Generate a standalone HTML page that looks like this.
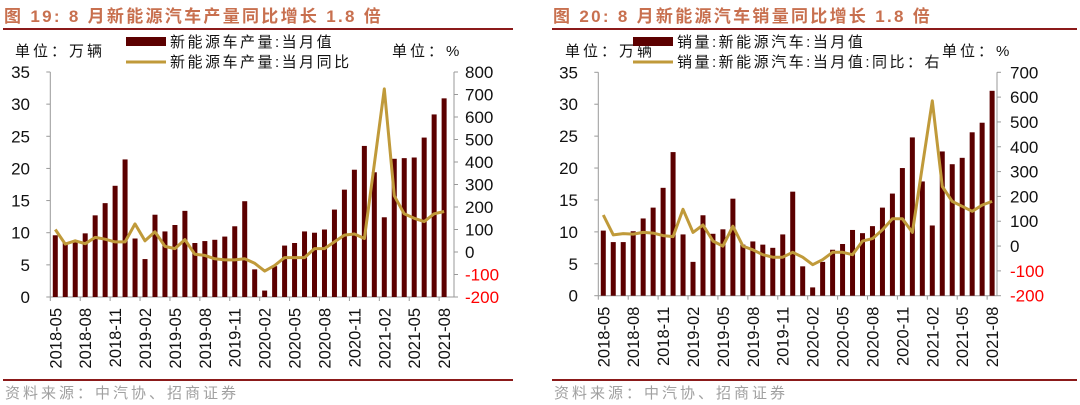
<!DOCTYPE html>
<html><head><meta charset="utf-8">
<style>
html,body{margin:0;padding:0;background:#fff;}
svg{display:block;font-family:"Liberation Sans","Noto Sans CJK SC",sans-serif;}
</style></head>
<body>
<svg id="chart" width="1080" height="405" viewBox="0 0 1080 405" xmlns="http://www.w3.org/2000/svg">
  <g>
    <text x="4" y="22" font-size="17" font-weight="bold" fill="#c8704f" letter-spacing="2.3">图 19:  8 月新能源汽车产量同比增长 1.8 倍</text>
    <rect x="3" y="28" width="510" height="2" fill="#8b1a1a"/>
    <rect x="3" y="379" width="510" height="2" fill="#8b1a1a"/>
    <text x="5" y="398" font-size="15" fill="#a0a0a0" letter-spacing="3">资料来源：中汽协、招商证券</text>
  </g>
  <g>
    <text x="553" y="22" font-size="17" font-weight="bold" fill="#c8704f" letter-spacing="2.3">图 20:  8 月新能源汽车销量同比增长 1.8 倍</text>
    <rect x="552" y="28" width="525" height="2" fill="#8b1a1a"/>
    <rect x="552" y="379" width="525" height="2" fill="#8b1a1a"/>
    <text x="554" y="398" font-size="15" fill="#a0a0a0" letter-spacing="3">资料来源：中汽协、招商证券</text>
  </g>
</svg>
<script>
const categories = ["2018-05","2018-06","2018-07","2018-08","2018-09","2018-10","2018-11","2018-12","2019-01","2019-02","2019-03","2019-04","2019-05","2019-06","2019-07","2019-08","2019-09","2019-10","2019-11","2019-12","2020-01","2020-02","2020-03","2020-04","2020-05","2020-06","2020-07","2020-08","2020-09","2020-10","2020-11","2020-12","2021-01","2021-02","2021-03","2021-04","2021-05","2021-06","2021-07","2021-08"];
const tickLabels = ["2018-05","2018-08","2018-11","2019-02","2019-05","2019-08","2019-11","2020-02","2020-05","2020-08","2020-11","2021-02","2021-05","2021-08"];
const prodValues = [9.6,8.5,8.8,9.9,12.7,14.6,17.3,21.4,9.1,5.9,12.8,10.2,11.2,13.4,8.4,8.7,8.9,9.4,11.0,14.9,4.3,1.0,4.8,8.0,8.4,10.2,10.0,10.5,13.6,16.7,19.8,23.5,19.4,12.4,21.5,21.6,21.7,24.8,28.4,30.9];
const prodYoY = [100,35,50,37,65,57,45,45,125,50,90,25,15,55,-10,-15,-30,-35,-35,-30,-50,-85,-60,-25,-25,-25,15,15,45,75,80,60,390,725,250,170,150,135,170,180];
const salesValues = [10.2,8.4,8.4,10.1,12.1,13.8,16.9,22.5,9.6,5.3,12.6,9.7,10.4,15.2,8.0,8.5,8.0,7.5,9.6,16.3,4.6,1.3,5.3,7.2,8.1,10.3,9.8,10.9,13.8,16.0,20.0,24.8,17.9,11.0,22.6,20.6,21.6,25.6,27.1,32.1];
const salesYoY = [125,45,50,48,55,52,42,38,148,55,85,20,0,80,0,-15,-35,-45,-45,-25,-45,-75,-55,-25,-25,-35,20,30,65,110,110,55,320,585,240,180,160,140,165,180];
const leftTicks = [0,5,10,15,20,25,30,35];
const prodRightTicks = [-200,-100,0,100,200,300,400,500,600,700,800];
const salesRightTicks = [-200,-100,0,100,200,300,400,500,600,700];

const NS = "http://www.w3.org/2000/svg";
const svg = document.getElementById('chart');
function mk(tag, attrs, parent){
  const e = document.createElementNS(NS, tag);
  for (const k in attrs) e.setAttribute(k, attrs[k]);
  parent.appendChild(e);
  return e;
}
function drawChart(prefix, cfg, bars, line, rTicks, legend1, legend2){
  const g = mk('g', {}, svg);
  
  
  const yL = v => cfg.bottom - (v - 0) / 35 * (cfg.bottom - cfg.top);
  const rMin = rTicks[0], rMax = rTicks[rTicks.length - 1];
  const yR = v => cfg.bottom - (v - rMin) / (rMax - rMin) * (cfg.bottom - cfg.top);
  const xC = i => cfg.x0 + cfg.step * (i + 0.5);
  const ax = mk('line', {x1: cfg.x0, y1: cfg.top, x2: cfg.x0, y2: cfg.bottom, stroke: '#999', 'stroke-width': 1}, g);
  
  
  const ax2 = mk('line', {x1: cfg.xR, y1: cfg.top, x2: cfg.xR, y2: cfg.bottom, stroke: '#999', 'stroke-width': 1}, g);
  
  
  const ax3 = mk('line', {x1: cfg.x0, y1: cfg.bottom, x2: cfg.xR, y2: cfg.bottom, stroke: '#999', 'stroke-width': 1}, g);
  
  
  leftTicks.forEach(v => {
    const y = yL(v);
    mk('line', {x1: cfg.x0 - 4, y1: y, x2: cfg.x0, y2: y, stroke: '#999'}, g);
    const t = mk('text', {x: cfg.lLabelX, y: y + 6, 'font-size': 17, 'text-anchor': 'end', fill: '#111'}, g);
    
    
    t.textContent = v;
  });
  rTicks.forEach(v => {
    const y = yR(v);
    mk('line', {x1: cfg.xR, y1: y, x2: cfg.xR + 4, y2: y, stroke: '#999'}, g);
    const t = mk('text', {x: cfg.rLabelX, y: y + 6, 'font-size': 17, fill: v < 0 ? '#ff0000' : '#111'}, g);
    
    
    t.textContent = v;
  });
  bars.forEach((v, i) => {
    const r = mk('rect', {x: xC(i) - 2.5, y: yL(v), width: 5, height: cfg.bottom - yL(v), fill: '#5c0000'}, g);
    
    
  });
  categories.forEach((c, i) => {
    if (i % 3 === 0) {
      const x = cfg.x0 + cfg.step * i;
      mk('line', {x1: x, y1: cfg.bottom, x2: x, y2: cfg.bottom + 4, stroke: '#999'}, g);
    }
    if (tickLabels.indexOf(c) >= 0) {
      const x = xC(i);
      const t = mk('text', {x: 0, y: 0, 'font-size': 16.5, 'text-anchor': 'end', fill: '#111', transform: `translate(${x + 6},${cfg.bottom + 11}) rotate(-90)`}, g);
      
      
      t.textContent = c;
    }
  });
  const pts = line.map((v, i) => `${xC(i).toFixed(1)},${yR(v).toFixed(1)}`).join(' ');
  const pl = mk('polyline', {points: pts, fill: 'none', stroke: '#c09a3a', 'stroke-width': 3, 'stroke-linejoin': 'round'}, g);
  
  
  const u1 = mk('text', {x: cfg.unitLX, y: 56, 'font-size': 15, fill: '#111', 'letter-spacing': 3}, g);
  
  
  u1.textContent = '单位：万辆';
  const u2 = mk('text', {x: cfg.unitRX, y: 56, 'font-size': 15, fill: '#111', 'letter-spacing': 3}, g);
  
  
  u2.textContent = '单位：%';
  const lr = mk('rect', {x: cfg.legX, y: 37, width: 40, height: 9, fill: '#5c0000'}, g);
  
  
  const lt1 = mk('text', {x: cfg.legX + 44, y: 47, 'font-size': 15, fill: '#111', 'letter-spacing': 2.5}, g);
  
  
  lt1.textContent = legend1;
  const ll = mk('line', {x1: cfg.legX, y1: 62, x2: cfg.legX + 40, y2: 62, stroke: '#c09a3a', 'stroke-width': 3}, g);
  
  
  const lt2 = mk('text', {x: cfg.legX + 44, y: 67, 'font-size': 15, fill: '#111', 'letter-spacing': 2.5}, g);
  
  
  lt2.textContent = legend2;
}
drawChart('production', {x0: 50.3, xR: 454, step: 9.97, top: 72, bottom: 297, lLabelX: 30, rLabelX: 465, unitLX: 15, unitRX: 392, legX: 126},
  prodValues, prodYoY, prodRightTicks, '新能源车产量:当月值', '新能源车产量:当月同比');
drawChart('sales', {x0: 598.3, xR: 997, step: 9.97, top: 72.3, bottom: 295.7, lLabelX: 578, rLabelX: 1010, unitLX: 565, unitRX: 942, legX: 633},
  salesValues, salesYoY, salesRightTicks, '销量:新能源汽车:当月值', '销量:新能源汽车:当月值:同比：右');
</script>
</body></html>
